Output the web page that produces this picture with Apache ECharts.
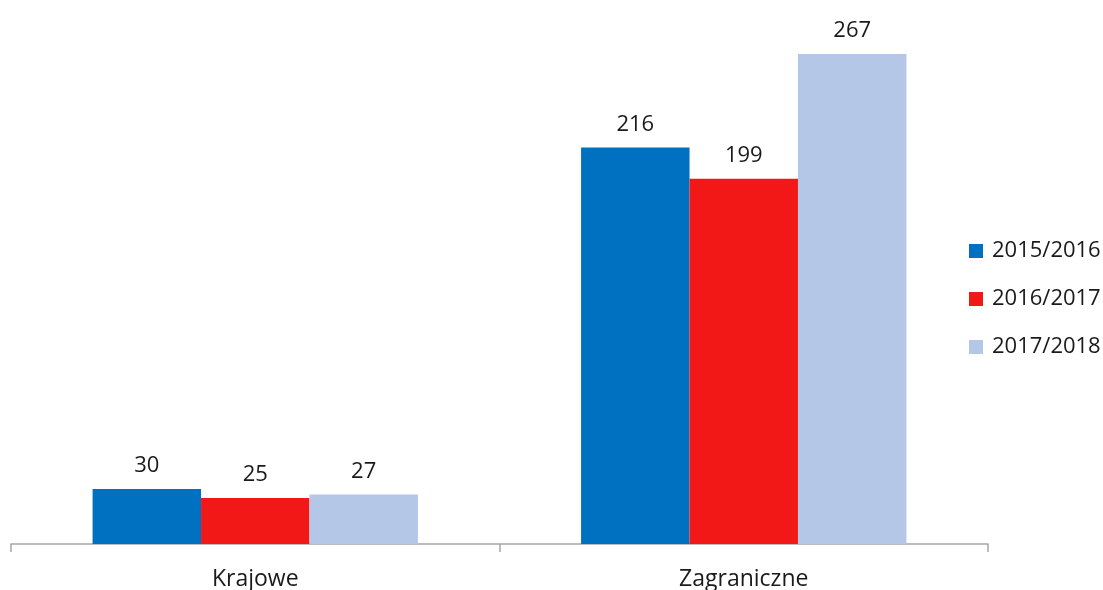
<!DOCTYPE html>
<html><head><meta charset="utf-8">
<script src="https://cdn.jsdelivr.net/npm/echarts@6/dist/echarts.min.js"></script>
<style>html,body{margin:0;padding:0;background:#fff}#c{width:1103px;height:590px}</style>
</head><body><div id="c"></div>
<script>
const categories = ['Krajowe', 'Zagraniczne'];
const seriesNames = ['2015/2016', '2016/2017', '2017/2018'];
const values2015 = [30, 216];
const values2016 = [25, 199];
const values2017 = [27, 267];
const colors = ['#0070c0', '#f21818', '#b4c7e7'];
const allValues = [values2015, values2016, values2017];
const font = '"Open Sans", Lato, sans-serif';
const chart = echarts.init(document.getElementById('c'));
chart.setOption({
  animation: false,
  grid: {left: 11, right: 115, top: 54, bottom: 46, containLabel: false, outerBoundsMode: 'none'},
  legend: {
    orient: 'vertical', left: 969, top: 240, padding: 0,
    itemWidth: 14, itemHeight: 14, itemGap: 26, icon: 'rect',
    textStyle: {fontFamily: font, fontSize: 22, lineHeight: 22, color: '#1a1a1a', padding: [0,0,0,4]},
    data: seriesNames
  },
  xAxis: {
    type: 'category', data: categories,
    axisLine: {lineStyle: {color: '#a6a6a6', width: 1.5}},
    axisTick: {show: true, length: 8, lineStyle: {color: '#a6a6a6', width: 1.5}},
    axisLabel: {fontFamily: font, fontSize: 23, color: '#1a1a1a', margin: 24}
  },
  yAxis: {type: 'value', min: 0, max: 267, show: false, splitLine: {show: false}},
  series: seriesNames.map((n, i) => ({
    name: n, type: 'bar', data: allValues[i],
    barGap: '0%', barCategoryGap: '33.4%',
    itemStyle: {color: colors[i]},
    label: {show: true, position: 'top', distance: 12, fontFamily: font, fontSize: 22, color: '#1a1a1a'}
  }))
});
</script></body></html>
